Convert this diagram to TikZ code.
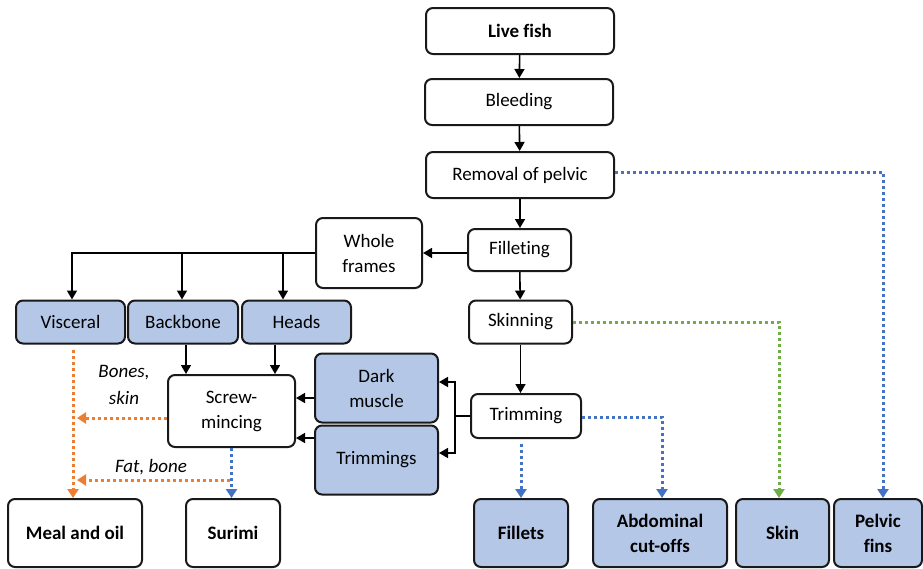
\documentclass[tikz,border=0pt]{standalone}
\usepackage{fontspec}
\setmainfont{Carlito}[RawFeature=-liga]
\usetikzlibrary{arrows.meta}
\definecolor{boxblue}{HTML}{B4C7E7}
\definecolor{dotblue}{HTML}{4472C4}
\definecolor{dotorange}{HTML}{ED7D31}
\definecolor{dotgreen}{HTML}{70AD47}
\begin{document}
\begin{tikzpicture}[x=1pt,y=-1pt,
  font=\fontsize{19}{25}\selectfont,
  box/.style={draw=black!90, line width=2pt, rounded corners=7pt, inner sep=0pt,
    align=center, fill=white},
  part/.style={box, fill=boxblue},
  bf/.style={font=\fontsize{19}{25}\selectfont\bfseries},
  it/.style={font=\fontsize{19}{25}\selectfont\itshape},
  arr/.style={line width=1.6pt, -{Triangle[length=9pt,width=10pt]}},
  dotline/.style={line width=3pt, dash pattern=on 3pt off 3pt,
    -{Triangle[length=9pt,width=11pt]}},
  blueline/.style={dotline, draw=dotblue, arrows={-{Triangle[length=9pt,width=11pt,fill=dotblue]}}},
  greenline/.style={dotline, draw=dotgreen, arrows={-{Triangle[length=9pt,width=11pt,fill=dotgreen]}}},
  orangeline/.style={dotline, draw=dotorange, arrows={-{Triangle[length=9pt,width=11pt,fill=dotorange]}}}]
\useasboundingbox (0,0) rectangle (923,568);

% main processing line
\node[box,bf,minimum width=188pt,minimum height=46pt] (live) at (520,31) {Live fish};
\node[box,minimum width=188pt,minimum height=46pt] (bleed) at (519,102) {Bleeding};
\node[box,minimum width=188pt,minimum height=46pt] (removal) at (520,175) {Removal of pelvic};
\node[box,minimum width=103pt,minimum height=42pt] (fillet) at (519.5,250) {Filleting};
\node[box,minimum width=103pt,minimum height=43pt] (skinning) at (520.5,322) {Skinning};
\node[box,minimum width=110pt,minimum height=44pt] (trimming) at (526,416) {Trimming};

% frames and by-products
\node[box,minimum width=106pt,minimum height=70pt] (whole) at (369,253) {Whole\\frames};
\node[part,minimum width=109pt,minimum height=43pt] (visceral) at (70.5,322) {Visceral};
\node[part,minimum width=110pt,minimum height=43pt] (backbone) at (183,322) {Backbone};
\node[part,minimum width=109pt,minimum height=43pt] (heads) at (296.5,322) {Heads};
\node[box,minimum width=127pt,minimum height=72pt] (screw) at (231.5,411) {Screw-\\mincing};
\node[part,minimum width=123pt,minimum height=69pt] (dark) at (376.5,388) {Dark\\muscle};
\node[part,minimum width=123pt,minimum height=69pt] (trimmings) at (376.5,460) {Trimmings};

% end products
\node[box,bf,minimum width=134pt,minimum height=68pt] (meal) at (75,533) {Meal and oil};
\node[box,bf,minimum width=94pt,minimum height=68pt] (surimi) at (233,533) {Surimi};
\node[part,bf,minimum width=94pt,minimum height=68pt] (fillets) at (521,533) {Fillets};
\node[part,bf,minimum width=134pt,minimum height=68pt] (abdominal) at (660,533) {Abdominal\\cut-offs};
\node[part,bf,minimum width=93pt,minimum height=68pt] (skin) at (782.5,533) {Skin};
\node[part,bf,minimum width=88pt,minimum height=68pt] (pelvic) at (878,533) {Pelvic\\fins};

% labels on the side streams
\node[it] (lbones) at (124,373) {Bones,};
\node[it] (lskin) at (124,398) {skin};
\node[it] (lfat) at (151,467) {Fat, bone};

% solid flow
\draw[arr] (live) -- (bleed);
\draw[arr] (bleed) -- (removal);
\draw[arr] (removal.south) -- (removal.south |- fillet.north);
\draw[arr] (fillet.west |- whole.east) -- (whole.east);
\draw[arr] (whole.west) -| ([xshift=1.5pt]visceral.north);
\draw[arr] (whole.west) -| ([xshift=-1pt]backbone.north);
\draw[arr] (whole.west) -| ([xshift=-13.5pt]heads.north);
\draw[arr] ([xshift=3pt]backbone.south) -- ([xshift=3pt]backbone.south |- screw.north);
\draw[arr] ([xshift=-21.5pt]heads.south) -- ([xshift=-21.5pt]heads.south |- screw.north);
\draw[arr] (dark.west |- 0,398) -- (screw.east |- 0,398);
\draw[arr] (trimmings.west |- 0,438) -- (screw.east |- 0,438);
\draw[arr] (fillet) -- (skinning);
\draw[arr] (skinning.south) -- (skinning.south |- trimming.north);
\coordinate (tj) at (455,416);
\draw[line width=1.6pt] (trimming.west) -- (tj);
\draw[arr] (tj) |- (dark.east |- 0,382);
\draw[arr] (tj) |- (trimmings.east |- 0,453);

% dotted side streams
\draw[blueline] (removal.east |- 0,172) -| ([xshift=5pt]pelvic.north);
\draw[greenline] (skinning.east) -| ([xshift=-3.5pt]skin.north);
\draw[blueline] (trimming.east |- 0,417) -| ([xshift=2pt]abdominal.north);
\draw[blueline] ([yshift=-5pt]trimming.south -| fillets.north) -- (fillets.north);
\draw[blueline] (screw.south) -- (screw.south |- surimi.north);
\draw[orangeline] ([xshift=2.5pt,yshift=-5pt]visceral.south) -- ([xshift=-2pt]meal.north);
\coordinate (m1) at (77,418);
\coordinate (m2) at (77,480);
\coordinate (sb) at (230,480);
\draw[orangeline] (screw.west |- m1) -- (m1);
\draw[orangeline] (sb) -- (m2);
\end{tikzpicture}
\end{document}
